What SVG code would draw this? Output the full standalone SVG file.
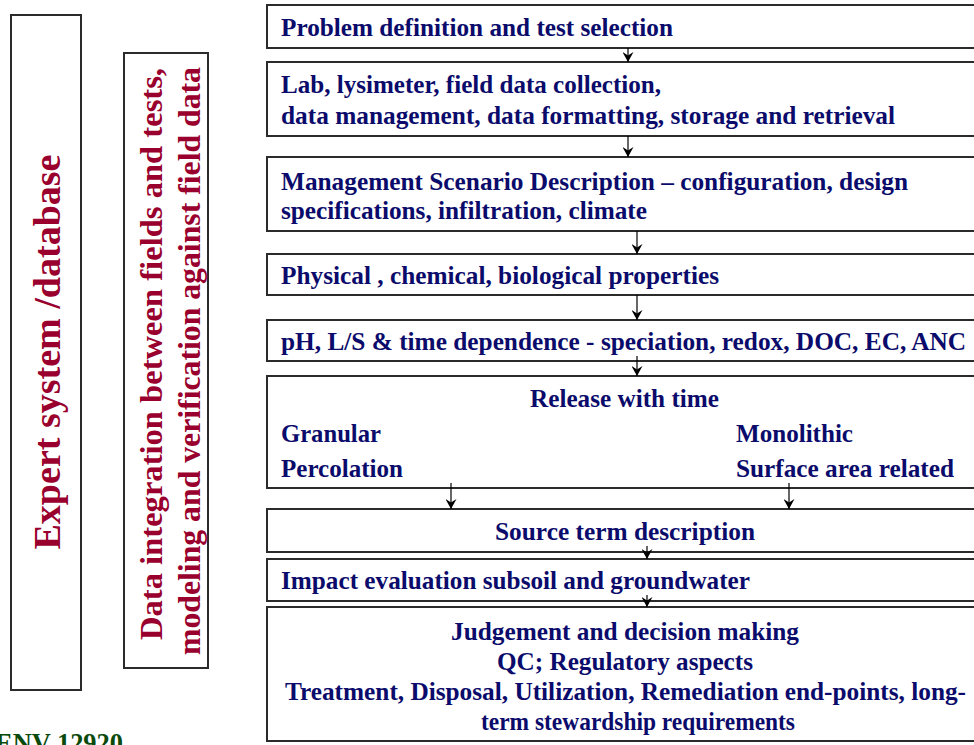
<svg xmlns="http://www.w3.org/2000/svg" width="974" height="745" viewBox="0 0 974 745">
  <style>
    .box { fill: #ffffff; stroke: #2b2b2b; stroke-width: 2; }
    .t { font-family: "Liberation Serif", "Times New Roman", serif; font-weight: bold; font-size: 25px; fill: #0b0b6b; }
    .c { text-anchor: middle; }
    .side { font-family: "Liberation Serif", "Times New Roman", serif; font-weight: bold; fill: #99002e; text-anchor: middle; }
    .link { stroke: #000000; stroke-width: 1.2; fill: none; marker-end: url(#head); }
  </style>
  <defs>
    <marker id="head" markerWidth="11" markerHeight="12" refX="5.5" refY="11" orient="0" markerUnits="userSpaceOnUse">
      <path d="M0,1 L5.5,11 L11,1 L5.5,4.5 Z" fill="#000000"/>
    </marker>
  </defs>

  <rect width="974" height="745" fill="#ffffff"/>

  <!-- side panels -->
  <g id="expert-system">
    <rect class="box" x="11" y="15" width="70" height="675"/>
    <text class="side" font-size="37" transform="translate(60,352) rotate(-90)" textLength="395" lengthAdjust="spacingAndGlyphs">Expert system /database</text>
  </g>
  <g id="data-integration">
    <rect class="box" x="124" y="53" width="84" height="615"/>
    <text class="side" font-size="31" transform="translate(162,354) rotate(-90)" textLength="572" lengthAdjust="spacingAndGlyphs">Data integration between fields and tests,</text>
    <text class="side" font-size="31" transform="translate(200,361) rotate(-90)" textLength="588" lengthAdjust="spacingAndGlyphs">modeling and verification against field data</text>
  </g>
  <g id="standard-ref">
    <text x="-5" y="752" font-family="Liberation Serif, serif" font-weight="bold" font-size="27" fill="#0a4a0a" textLength="128" lengthAdjust="spacingAndGlyphs">ENV 12920</text>
  </g>

  <!-- process steps -->
  <g id="problem-definition">
    <rect class="box" x="267" y="5" width="720" height="43"/>
    <text class="t" x="281" y="36" textLength="392" lengthAdjust="spacingAndGlyphs">Problem definition and test selection</text>
  </g>
  <g id="data-collection">
    <rect class="box" x="267" y="62" width="720" height="74"/>
    <text class="t" x="281" y="93" textLength="380" lengthAdjust="spacingAndGlyphs">Lab, lysimeter, field data collection,</text>
    <text class="t" x="281" y="124" textLength="614" lengthAdjust="spacingAndGlyphs">data management, data formatting, storage and retrieval</text>
  </g>
  <g id="management-scenario">
    <rect class="box" x="267" y="157" width="720" height="74"/>
    <text class="t" x="281" y="190" textLength="627" lengthAdjust="spacingAndGlyphs">Management Scenario Description – configuration, design</text>
    <text class="t" x="281" y="219" textLength="366" lengthAdjust="spacingAndGlyphs">specifications, infiltration, climate</text>
  </g>
  <g id="properties">
    <rect class="box" x="267" y="254" width="720" height="41"/>
    <text class="t" x="281" y="284" textLength="438" lengthAdjust="spacingAndGlyphs">Physical , chemical, biological properties</text>
  </g>
  <g id="dependence">
    <rect class="box" x="267" y="320" width="720" height="41"/>
    <text class="t" x="281" y="350" textLength="685" lengthAdjust="spacingAndGlyphs">pH, L/S &amp; time dependence - speciation, redox, DOC, EC, ANC</text>
  </g>
  <g id="release">
    <rect class="box" x="267" y="376" width="720" height="112"/>
    <text class="t c" x="624.5" y="407" textLength="189" lengthAdjust="spacingAndGlyphs">Release with time</text>
    <text class="t" x="281" y="442" textLength="100" lengthAdjust="spacingAndGlyphs">Granular</text>
    <text class="t" x="281" y="477" textLength="122" lengthAdjust="spacingAndGlyphs">Percolation</text>
    <text class="t" x="736" y="442" textLength="117" lengthAdjust="spacingAndGlyphs">Monolithic</text>
    <text class="t" x="736" y="477" textLength="218" lengthAdjust="spacingAndGlyphs">Surface area related</text>
  </g>
  <g id="source-term">
    <rect class="box" x="267" y="509" width="720" height="43"/>
    <text class="t c" x="625" y="540" textLength="260" lengthAdjust="spacingAndGlyphs">Source term description</text>
  </g>
  <g id="impact-evaluation">
    <rect class="box" x="267" y="559" width="720" height="42"/>
    <text class="t" x="281" y="589" textLength="469" lengthAdjust="spacingAndGlyphs">Impact evaluation subsoil and groundwater</text>
  </g>
  <g id="judgement">
    <rect class="box" x="267" y="607" width="720" height="134"/>
    <text class="t c" x="625" y="640" textLength="348" lengthAdjust="spacingAndGlyphs">Judgement and decision making</text>
    <text class="t c" x="625" y="670" textLength="256" lengthAdjust="spacingAndGlyphs">QC; Regulatory aspects</text>
    <text class="t c" x="625.5" y="700" textLength="681" lengthAdjust="spacingAndGlyphs">Treatment, Disposal, Utilization, Remediation end-points, long-</text>
    <text class="t c" x="638" y="730" textLength="314" lengthAdjust="spacingAndGlyphs">term stewardship requirements</text>
  </g>

  <!-- connectors -->
  <g id="connectors">
    <line class="link" x1="628" y1="48" x2="628" y2="62"/>
    <line class="link" x1="628" y1="136" x2="628" y2="157"/>
    <line class="link" x1="637" y1="231" x2="637" y2="254"/>
    <line class="link" x1="637" y1="295" x2="637" y2="320"/>
    <line class="link" x1="637" y1="356" x2="637" y2="376"/>
    <line class="link" x1="451" y1="483" x2="451" y2="509"/>
    <line class="link" x1="789" y1="483" x2="789" y2="509"/>
    <line class="link" x1="647" y1="546" x2="647" y2="559"/>
    <line class="link" x1="647" y1="595" x2="647" y2="607"/>
  </g>
</svg>
